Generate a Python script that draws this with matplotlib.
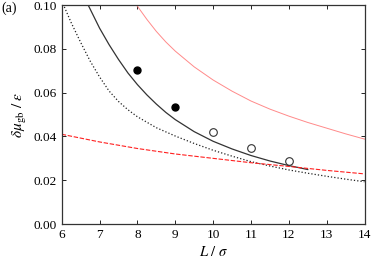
import matplotlib
matplotlib.use('Agg')

import matplotlib.pyplot as plt

plt.rcParams['font.family'] = 'Liberation Serif'
plt.rcParams['mathtext.fontset'] = 'stix'

# simulation points
L_filled = [8, 9]
mu_filled = [0.0705, 0.0536]
L_open = [10, 11, 12]
mu_open = [0.0422, 0.0346, 0.0290]

# solid black curve
L_solid = [6.70, 7.0, 7.25, 7.5, 7.75, 8.0, 8.25, 8.5, 8.75, 9.0, 9.5, 10.0, 10.5, 11.0, 11.5, 12.0, 12.5]
mu_solid = [0.1000, 0.0895, 0.0820, 0.0752, 0.0690, 0.0637, 0.0590, 0.0548, 0.0510, 0.0477,
            0.0422, 0.0378, 0.0343, 0.0313, 0.0288, 0.0267, 0.0249]

# dotted black curve
L_dot = [6.0, 6.25, 6.5, 6.75, 7.0, 7.25, 7.5, 7.75, 8.0, 8.5, 9.0, 9.5, 10.0, 10.5, 11.0,
         11.5, 12.0, 12.5, 13.0, 13.5, 14.0]
mu_dot = [0.1020, 0.0920, 0.0830, 0.0745, 0.0672, 0.0608, 0.0560, 0.0522, 0.0490, 0.0440,
          0.0402, 0.0368, 0.0337, 0.0310, 0.0285, 0.0265, 0.0247, 0.0232, 0.0218, 0.0205, 0.0193]

# thin red curve
L_red = [7.98, 8.25, 8.5, 8.75, 9.0, 9.5, 10.0, 10.5, 11.0, 11.5, 12.0, 12.5, 13.0, 13.5, 14.0]
mu_red = [0.1000, 0.0935, 0.0880, 0.0832, 0.0790, 0.0718, 0.0658, 0.0607, 0.0562, 0.0525,
          0.0493, 0.0464, 0.0438, 0.0412, 0.0388]

# dashed red curve
L_rdash = [6, 7, 8, 9, 10, 11, 12, 13, 14]
mu_rdash = [0.0410, 0.0375, 0.0345, 0.0320, 0.0300, 0.0280, 0.0263, 0.0245, 0.0229]

fig = plt.figure(figsize=(3.74, 2.64), dpi=100)
ax = fig.add_axes([0.165, 0.1515, 0.8096, 0.829])

ax.plot(L_red, mu_red, '-', color='#ff8a8a', lw=0.7)
ax.plot(L_dot, mu_dot, ':', color='#222222', lw=0.9)
ax.plot(L_solid, mu_solid, '-', color='#333333', lw=0.9)
ax.plot(L_rdash, mu_rdash, '--', color='#ff2020', lw=0.8, dashes=(4, 1.5))
ax.plot(L_filled, mu_filled, 'o', color='black', ms=5)
ax.plot(L_open, mu_open, 'o', mfc='white', mec='#333333', mew=0.8, ms=5.5)

ax.set_xlim(6, 14)
ax.set_ylim(0, 0.10)
ax.set_xticks(range(6, 15))
ax.set_yticks([0.0, 0.02, 0.04, 0.06, 0.08, 0.10])
ax.set_yticklabels(['0.00', '0.02', '0.04', '0.06', '0.08', '0.10'])
ax.tick_params(direction='in', top=True, right=True, labelsize=9.5, length=3, width=0.6)
for s in ax.spines.values():
    s.set_linewidth(0.9)
    s.set_color('#333333')

ax.set_xlabel(r'$L\ /\ \sigma$', fontsize=10.5, labelpad=3)
ax.set_ylabel(r'$\delta\mu_{\rm gb}\ /\ \varepsilon$', fontsize=11, labelpad=3)
fig.text(0.003, 0.955, '(a)', fontsize=10)

plt.savefig('out.png', dpi=100)
